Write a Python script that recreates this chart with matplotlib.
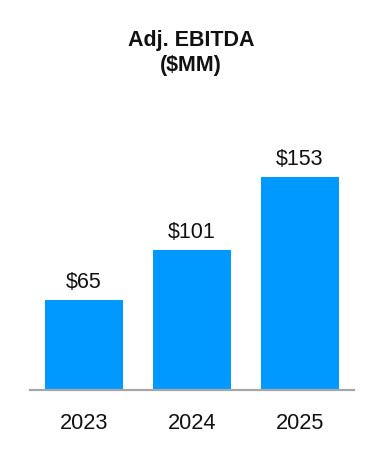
import matplotlib.pyplot as plt

years = ['2023', '2024', '2025']
ebitda = [65, 101, 153]
value_labels = ['$65', '$101', '$153']

plt.rcParams['font.family'] = ['Liberation Sans', 'DejaVu Sans']

fig = plt.figure(figsize=(3.84, 4.6), dpi=100)
ax = fig.add_axes([30 / 384, 69 / 460, 324 / 384, 278 / 460])

x = range(len(years))
bars = ax.bar(x, ebitda, width=0.722, color='#0099FF', zorder=2)

# value labels above bars
for rect, lab in zip(bars, value_labels):
    ax.annotate(lab, (rect.get_x() + rect.get_width() / 2, rect.get_height()),
                xytext=(0, 9.4), textcoords='offset points',
                ha='center', va='baseline', fontsize=15.5, color='#111111')

ax.set_xlim(-0.5, 2.5)
ax.set_ylim(0, 200)
ax.set_xticks(list(x))
ax.set_xticklabels(years, fontsize=15.7, color='#111111')
ax.tick_params(axis='x', length=0, pad=16)
ax.set_yticks([])

for side in ['top', 'right', 'left']:
    ax.spines[side].set_visible(False)
ax.spines['bottom'].set_color('#A6A6A6')
ax.spines['bottom'].set_linewidth(1.6)
ax.spines['bottom'].set_zorder(3)

fig.text(0.497, 1 - 53 / 460, 'Adj. EBITDA\n($MM)', ha='center', va='center',
         fontsize=15.5, fontweight='bold', linespacing=1.2, color='#111111')

fig.savefig('out.png', dpi=100)
